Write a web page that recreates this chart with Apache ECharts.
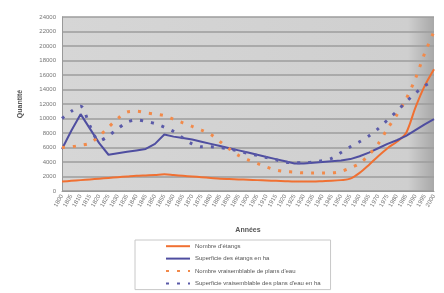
<!DOCTYPE html>
<html>
<head>
<meta charset="utf-8">
<script src="https://cdn.jsdelivr.net/npm/echarts@6/dist/echarts.min.js"></script>
<style>
  html, body { margin: 0; padding: 0; background: #fff; }
  #chart { width: 444px; height: 293px; }
</style>
</head>
<body>
<div id="chart"></div>
<script>
// années (lecture approximative des étiquettes)
var annees = [];
for (var y = 1800; y <= 2000; y += 5) { annees.push(String(y)); }

var nombreEtangs = [1300, 1400, 1500, 1600, 1700, 1800, 1900, 2000, 2100, 2150,
    2200, 2300, 2200, 2100, 2000, 1900, 1800, 1700, 1650, 1600,
    1550, 1500, 1450, 1400, 1350, 1300, 1300, 1300, 1350, 1400,
    1500, 1700, 2500, 3600, 4800, 5900, 6800, 8000, 11500, 14500, 16800];

var superficieEtangs = [5800, 8300, 10600, 8600, 6600, 5000, 5200, 5400, 5600, 5800,
    6500, 7800, 7500, 7300, 7100, 6800, 6500, 6200, 5900, 5600,
    5300, 5000, 4700, 4400, 4100, 3800, 3800, 3900, 4000, 4100,
    4200, 4400, 4800, 5300, 5900, 6500, 7000, 7600, 8400, 9200, 9900];

var nombreVraisemblable = [6000, 6100, 6300, 6600, 7600, 8800, 10000, 10900, 11000, 10800,
    10600, 10400, 9900, 9400, 8900, 8400, 7800, 6800, 5800, 4900,
    4300, 3800, 3300, 2900, 2700, 2600, 2500, 2500, 2500, 2500,
    2700, 3200, 3800, 5000, 6500, 8600, 10500, 12700, 15500, 19000, 22000];

var superficieVraisemblable = [10000, 11000, 11700, 9000, 6900, 7600, 8600, 9500, 9800, 9600,
    9300, 8800, 8200, 7300, 6500, 6100, 6100, 6000, 5800, 5500,
    5200, 4900, 4600, 4300, 4000, 3900, 3900, 4000, 4200, 4500,
    5300, 6100, 6800, 7600, 8600, 9800, 11000, 12300, 13500, 14500, 15200];

var noms = ["Nombre d'étangs", "Superficie des étangs en ha",
    "Nombre vraisemblable de plans d'eau", "Superficie vraisemblable des plans d'eau en ha"];

var chart = echarts.init(document.getElementById('chart'));
var option = {
    backgroundColor: '#fff',
    animation: false,
    textStyle: { fontFamily: 'Liberation Sans' },
    grid: {
        left: 62, right: 10, top: 17, bottom: 102,
        show: true,
        borderWidth: 0,
        backgroundColor: {
            type: 'linear', x: 0, y: 0, x2: 1, y2: 0,
            colorStops: [
                { offset: 0, color: '#d6d6d6' },
                { offset: 0.93, color: '#cfcfcf' },
                { offset: 1, color: '#a8a8a8' }
            ]
        }
    },
    legend: {
        orient: 'vertical',
        left: 135, top: 240,
        width: 240,
        padding: [3, 10, 3, 30],
        itemWidth: 24, itemHeight: 8,
        itemGap: 6,
        itemStyle: { opacity: 0 },
        backgroundColor: '#fff',
        borderColor: '#c8c8c8',
        borderWidth: 1,
        textStyle: { fontSize: 6, color: '#555' },
        data: noms
    },
    xAxis: {
        type: 'category',
        data: annees,
        boundaryGap: false,
        name: 'Années',
        nameLocation: 'middle',
        nameGap: 36,
        nameTextStyle: { fontSize: 7, fontWeight: 'bold', color: '#555' },
        axisLine: { lineStyle: { color: '#999' } },
        axisTick: { show: false },
        axisLabel: { interval: 0, rotate: 60, fontSize: 6, color: '#777', margin: 4 }
    },
    yAxis: {
        type: 'value',
        min: 0, max: 24000, interval: 2000,
        name: 'Quantité',
        nameLocation: 'middle',
        nameGap: 38,
        nameRotate: 90,
        nameTextStyle: { fontSize: 7, fontWeight: 'bold', color: '#555' },
        axisLine: { show: true, lineStyle: { color: '#999' } },
        axisLabel: {
            fontSize: 6, color: '#777', margin: 6,
            formatter: function (v) { return String(v); }
        },
        splitLine: { lineStyle: { color: '#9c9c9c', width: 1.5 } }
    },
    series: [
        {
            name: noms[0], type: 'line', data: nombreEtangs,
            symbol: 'none', smooth: 0.3,
            itemStyle: { color: '#f07032' },
            lineStyle: { color: '#f07032', width: 2 }
        },
        {
            name: noms[1], type: 'line', data: superficieEtangs,
            symbol: 'none',
            itemStyle: { color: '#4f4ea0' },
            lineStyle: { color: '#4f4ea0', width: 2 }
        },
        {
            name: noms[2], type: 'line', data: nombreVraisemblable,
            symbol: 'none', smooth: 0.3,
            itemStyle: { color: '#f28a4a' },
            lineStyle: { color: '#f28a4a', width: 3, type: [3, 8] }
        },
        {
            name: noms[3], type: 'line', data: superficieVraisemblable,
            symbol: 'none', smooth: 0.3,
            itemStyle: { color: '#5a5aa8' },
            lineStyle: { color: '#5a5aa8', width: 3, type: [3, 8] }
        }
    ]
};
chart.setOption(option);
</script>
</body>
</html>
